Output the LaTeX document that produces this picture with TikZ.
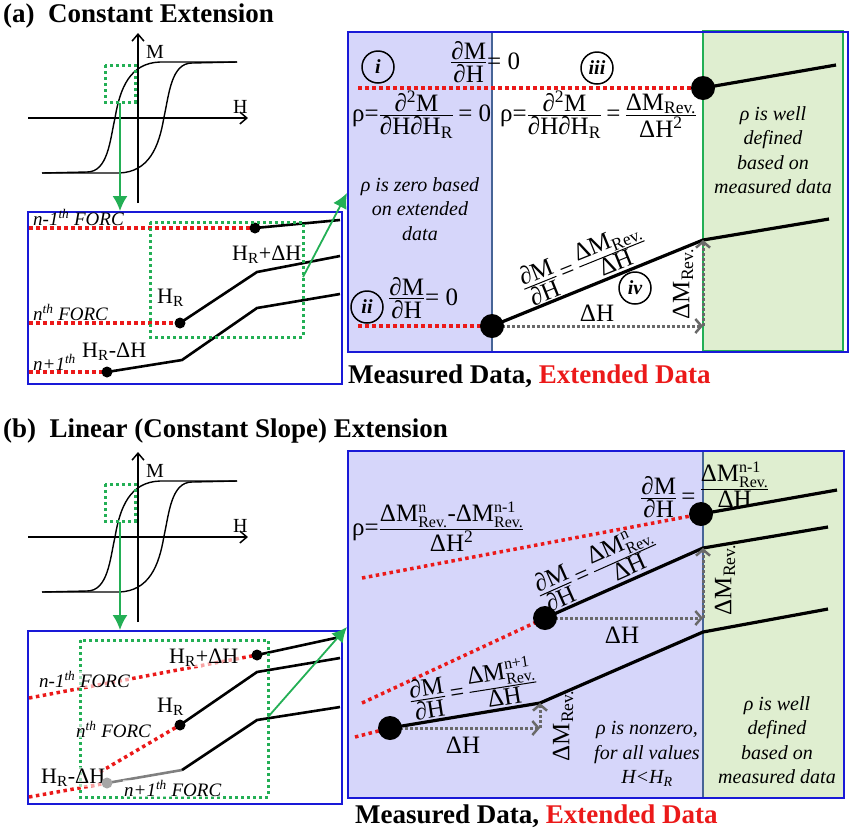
\documentclass[tikz,border=0pt]{standalone}
\usepackage{fontspec}
\setmainfont{Liberation Serif}
\usepackage{amsmath}
\usepackage{xcolor}
\usepackage{tikz}
\usetikzlibrary{arrows.meta}

\definecolor{panelblue}{RGB}{25,25,215}
\definecolor{divider}{RGB}{70,100,150}
\definecolor{lavender}{RGB}{214,214,250}
\definecolor{palegreen}{RGB}{223,238,208}
\definecolor{zoomgreen}{RGB}{35,175,85}
\definecolor{extred}{RGB}{235,25,25}
\definecolor{stepgray}{RGB}{105,105,105}

\newcommand{\tfr}[2]{$\frac{\mbox{#1}}{\mbox{#2}}$}
\newcommand{\dmr}[1]{ΔM$^{\mbox{\fontsize{16}{16}\selectfont #1}}_{\mbox{\fontsize{16}{16}\selectfont Rev.}}$}

\begin{document}
\begin{tikzpicture}[x=1pt,y=-1pt]
			\tikzstyle{title} = [font=\fontsize{27}{29}\selectfont\bfseries, anchor=base west, inner sep=0pt]
			\tikzstyle{forc} = [font=\fontsize{19}{21}\selectfont\itshape, anchor=base west, inner sep=0pt]
			\tikzstyle{lbl} = [font=\fontsize{22}{24}\selectfont, inner sep=0pt]
			\tikzstyle{eq} = [font=\fontsize{25}{27}\selectfont, inner sep=0pt]
			\tikzstyle{axislbl} = [font=\fontsize{20}{22}\selectfont, anchor=base west, inner sep=0pt]
			\tikzstyle{note} = [font=\fontsize{20}{24.5}\selectfont\itshape, align=center, inner sep=0pt]
			\tikzstyle{tag} = [circle, draw, line width=1.5pt, minimum size=32pt, inner sep=0pt, font=\fontsize{20}{22}\selectfont\bfseries\itshape]
			\tikzstyle{knot} = [circle, fill, minimum size=11pt, inner sep=0pt]
			\tikzstyle{bigknot} = [circle, fill, minimum size=24pt, inner sep=0pt]
			\tikzset{measured/.style = {line width=2.6pt}}
			\tikzset{extended/.style = {extred, line width=3.5pt, dash pattern=on 3.5pt off 3.5pt}}
			\tikzset{zoombox/.style = {zoomgreen, line width=3pt, dash pattern=on 3pt off 3pt}}
			\tikzset{mapto/.style = {zoomgreen, line width=1.8pt, -{Latex[length=15pt,width=15pt]}}}
			\tikzset{delta/.style = {stepgray, line width=3pt, dash pattern=on 3pt off 2pt, -{Straight Barb[length=6pt,width=14pt,line width=2.5pt]}}}
			\tikzset{axis/.style = {line width=1.5pt, -{Straight Barb[length=7pt,width=12pt]}}}
			\tikzset{veil/.style = {fill=white, fill opacity=0.6, text opacity=1, inner sep=1pt}}
			
			\useasboundingbox (0,0) rectangle (850,831);
			
			% ---------------- (a) constant extension ----------------
			\node[title](titleA) at (3,22) {(a)~ Constant Extension};
			
			% hysteresis loop
			\draw[axis] (28,118) -- (248,118);
			\draw[axis] (138,203) -- (138,33);
			\node[axislbl](MA) at (146,58) {M};
			\node[axislbl](HA) at (233,113) {H};
			\draw[line width=1.4pt] (42,173) -- (87,172) .. controls (108,172) and (110,140) .. (115,118) .. controls (120,88) and (130,63) .. (160,62) -- (237,62);
			\draw[line width=1.4pt] (237,62) -- (192,63) .. controls (171,63) and (169,95) .. (164,117) .. controls (159,147) and (149,172) .. (119,173) -- (42,173);
			\draw[zoombox] (105,65) rectangle (135,102);
			\coordinate (zoomA) at (120,103);
			
			% FORC detail
			\node[draw=panelblue, line width=2pt, minimum width=314pt, minimum height=172pt, anchor=north west, inner sep=0pt](detailA) at (27,211) {};
			\draw[mapto] (zoomA) -- (detailA.north -| zoomA);
			\coordinate (a1s) at (29,228);
			\coordinate (a1) at (255,228);
			\coordinate (a1e) at (340,220);
			\coordinate (a2s) at (29,323);
			\coordinate (a2) at (180,323);
			\coordinate (a2k) at (257,272);
			\coordinate (a2e) at (340,256);
			\coordinate (a3s) at (29,372);
			\coordinate (a3) at (107,372);
			\coordinate (a3k) at (182,360);
			\coordinate (a3l) at (257,308);
			\coordinate (a3e) at (340,294);
			\draw[extended] (a1s) -- (a1);
			\draw[extended] (a2s) -- (a2);
			\draw[extended] (a3s) -- (a3);
			\draw[measured] (a1) -- (a1e);
			\draw[measured] (a2) -- (a2k) -- (a2e);
			\draw[measured] (a3) -- (a3k) -- (a3l) -- (a3e);
			\node[knot](dotA1) at (a1) {};
			\node[knot](dotA2) at (a2) {};
			\node[knot](dotA3) at (a3) {};
			\draw[zoombox] (150,222) rectangle (303,337);
			\node[forc](forcA1) at (33,225) {n-1\textsuperscript{th} FORC};
			\node[forc](forcA2) at (33,320) {n\textsuperscript{th} FORC};
			\node[forc](forcA3) at (33,370) {n+1\textsuperscript{th}};
			\node[lbl, anchor=base west](hrA1) at (232,260) {H\textsubscript{R}+ΔH};
			\node[lbl, anchor=base west](hrA2) at (157,303) {H\textsubscript{R}};
			\node[lbl, anchor=base west](hrA3) at (82,357) {H\textsubscript{R}-ΔH};
			
			% right panel
			\fill[lavender] (347,31) rectangle (492,351);
			\fill[palegreen] (703,31) rectangle (843,351);
			\draw[zoomgreen, line width=1.5pt] (703,31) rectangle (843,351);
			\draw[divider, line width=1.5pt] (492,31) -- (492,351);
			\node[draw=panelblue, line width=2pt, minimum width=500pt, minimum height=320pt, anchor=north west, inner sep=0pt](panelA) at (347,31) {};
			\draw[mapto] (303,277) -- (panelA.west |- 0,193);
			\coordinate (p1s) at (358,88);
			\coordinate (p1) at (703,88);
			\coordinate (p1e) at (836,65);
			\coordinate (p2s) at (358,326);
			\coordinate (p2) at (492,326);
			\coordinate (p2k) at (703,240);
			\coordinate (p2e) at (829,219);
			\draw[extended] (p1s) -- (p1);
			\draw[extended] (p2s) -- (p2);
			\draw[measured, line width=3.2pt] (p1) -- (p1e);
			\draw[measured, line width=3.2pt] (p2) -- (p2k) -- (p2e);
			\draw[delta] (p2) -- (p2 -| p2k);
			\draw[delta] (p2 -| p2k) -- (p2k);
			\node[bigknot](dotP1) at (p1) {};
			\node[bigknot](dotP2) at (p2) {};
			\node[tag](tagi) at (378,67) {i};
			\node[tag](tagiii) at (597,68) {iii};
			\node[tag](tagii) at (367,307) {ii};
			\node[tag](tagiv) at (635,288) {iv};
			\node[eq, anchor=west](dmdhA) at (450,62) {\tfr{∂M}{∂H}= 0};
			\node[eq, anchor=west](rhoA1) at (352,115) {ρ=\tfr{∂\textsuperscript{2}M}{∂H∂H\textsubscript{R}}\,= 0};
			\node[eq, anchor=west](rhoA2) at (500,115) {ρ=\tfr{∂\textsuperscript{2}M}{∂H∂H\textsubscript{R}}\,=\,\tfr{ΔM\textsubscript{Rev.}}{ΔH\textsuperscript{2}}};
			\node[eq, anchor=west](dmdhA2) at (388,298) {\tfr{∂M}{∂H}= 0};
			\node[eq, rotate=22](slopeA) at (584,264) {\tfr{∂M}{∂H}\,=\,\tfr{ΔM\textsubscript{Rev.}}{ΔH}};
			\node[eq](dhA) at (597,313) {ΔH};
			\node[eq, rotate=90](dmA) at (683,284) {ΔM\textsubscript{Rev.}};
			\node[note](zeroA) at (420,209) {ρ is zero based\\on extended\\data};
			\node[note](wellA) at (773,150) {ρ is well\\defined\\based on\\measured data};
			\node[title](legendA) at (348,383) {Measured Data, \textcolor{extred}{Extended Data}};
			
			% ---------------- (b) linear extension ----------------
			\node[title](titleB) at (3,437) {(b)~ Linear (Constant Slope) Extension};
			
			% hysteresis loop
			\begin{scope}[shift={(0,419)}]
			\draw[axis] (28,118) -- (248,118);
			\draw[axis] (138,203) -- (138,33);
			\node[axislbl](MB) at (146,58) {M};
			\node[axislbl](HB) at (233,113) {H};
			\draw[line width=1.4pt] (42,173) -- (87,172) .. controls (108,172) and (110,140) .. (115,118) .. controls (120,88) and (130,63) .. (160,62) -- (237,62);
			\draw[line width=1.4pt] (237,62) -- (192,63) .. controls (171,63) and (169,95) .. (164,117) .. controls (159,147) and (149,172) .. (119,173) -- (42,173);
			\draw[zoombox] (105,65) rectangle (135,102);
			\coordinate (zoomB) at (120,103);
			\end{scope}
			
			% FORC detail
			\node[draw=panelblue, line width=2pt, minimum width=314pt, minimum height=173pt, anchor=north west, inner sep=0pt](detailB) at (27,630) {};
			\draw[mapto] (zoomB) -- (detailB.north -| zoomB);
			\coordinate (b1s) at (29,698);
			\coordinate (b1) at (257,655);
			\coordinate (b1e) at (340,637);
			\coordinate (b2s) at (100,772);
			\coordinate (b2) at (180,725);
			\coordinate (b2k) at (257,672);
			\coordinate (b2e) at (340,658);
			\coordinate (b3s) at (29,797);
			\coordinate (b3) at (107,783);
			\coordinate (b3k) at (182,770);
			\coordinate (b3l) at (257,720);
			\coordinate (b3e) at (340,707);
			\draw[extended] (b1s) -- (b1);
			\draw[extended] (b2s) -- (b2);
			\draw[extended] (b3s) -- (b3);
			\draw[measured] (b1) -- (b1e);
			\draw[measured] (b2) -- (b2k) -- (b2e);
			\draw[measured, gray] (b3) -- (b3k);
			\draw[measured] (b3k) -- (b3l) -- (b3e);
			\draw[zoombox] (80,640) rectangle (268,797);
			\node[forc, veil](forcB1) at (38,687) {n-1\textsuperscript{th} FORC};
			\node[forc, veil](forcB2) at (75,737) {n\textsuperscript{th} FORC};
			\node[forc, veil](forcB3) at (123,796) {n+1\textsuperscript{th} FORC};
			\node[lbl, anchor=base west, veil](hrB1) at (168,663) {H\textsubscript{R}+ΔH};
			\node[lbl, anchor=base west](hrB2) at (157,712) {H\textsubscript{R}};
			\node[lbl, anchor=base west, veil](hrB3) at (40,783) {H\textsubscript{R}-ΔH};
			\node[knot](dotB1) at (b1) {};
			\node[knot](dotB2) at (b2) {};
			\node[knot, fill=gray!70](dotB3) at (b3) {};
			
			% right panel
			\fill[lavender] (347,450) rectangle (703,797);
			\fill[palegreen] (703,450) rectangle (843,797);
			\draw[divider, line width=1.5pt] (703,450) -- (703,797);
			\node[draw=panelblue, line width=2pt, minimum width=496pt, minimum height=347pt, anchor=north west, inner sep=0pt](panelB) at (347,450) {};
			\draw[mapto] (268,717) -- (panelB.west |- 0,627);
			\coordinate (q1s) at (362,578);
			\coordinate (q1) at (701,514);
			\coordinate (q1e) at (837,490);
			\coordinate (q2s) at (362,703);
			\coordinate (q2) at (545,618);
			\coordinate (q2k) at (703,548);
			\coordinate (q2e) at (828,527);
			\coordinate (q3s) at (355,737);
			\coordinate (q3) at (390,728);
			\coordinate (q3k) at (540,703);
			\coordinate (q3l) at (703,632);
			\coordinate (q3e) at (828,609);
			\draw[extended] (q1s) -- (q1);
			\draw[extended] (q2s) -- (q2);
			\draw[extended] (q3s) -- (q3);
			\draw[measured, line width=3.2pt] (q1) -- (q1e);
			\draw[measured, line width=3.2pt] (q2) -- (q2k) -- (q2e);
			\draw[measured, line width=3.2pt] (q3) -- (q3k) -- (q3l) -- (q3e);
			\draw[delta] (q2) -- (q2 -| q2k);
			\draw[delta] (q2 -| q2k) -- (q2k);
			\draw[delta] (q3) -- (q3 -| q3k);
			\draw[delta] (q3 -| q3k) -- (q3k);
			\node[bigknot](dotQ1) at (q1) {};
			\node[bigknot](dotQ2) at (q2) {};
			\node[bigknot](dotQ3) at (q3) {};
			\node[eq, anchor=west](rhoB) at (352,527) {ρ=\tfr{\dmr{n}-\dmr{n-1}}{ΔH\textsuperscript{2}}};
			\node[eq, anchor=west](slopeB1) at (640,490) {\tfr{∂M}{∂H}\,=\,\raisebox{9pt}{\tfr{\dmr{n-1}}{ΔH}}};
			\node[eq, rotate=24](slopeB2) at (597,568) {\tfr{∂M}{∂H}\,=\,\tfr{\dmr{n}}{ΔH}};
			\node[eq, rotate=9](slopeB3) at (473,688) {\tfr{∂M}{∂H}\,=\,\tfr{\dmr{n+1}}{ΔH}};
			\node[eq](dhB1) at (622,635) {ΔH};
			\node[eq](dhB2) at (463,745) {ΔH};
			\node[eq, rotate=90](dmB1) at (725,580) {ΔM\textsubscript{Rev.}};
			\node[eq, rotate=90](dmB2) at (563,726) {ΔM\textsubscript{Rev.}};
			\node[note](nonzeroB) at (647,754) {ρ is nonzero,\\for all values\\H<H\textsubscript{R}};
			\node[note](wellB) at (777,740) {ρ is well\\defined\\based on\\measured data};
			\node[title](legendB) at (355,823) {Measured Data, \textcolor{extred}{Extended Data}};
			
\end{tikzpicture}
\end{document}
